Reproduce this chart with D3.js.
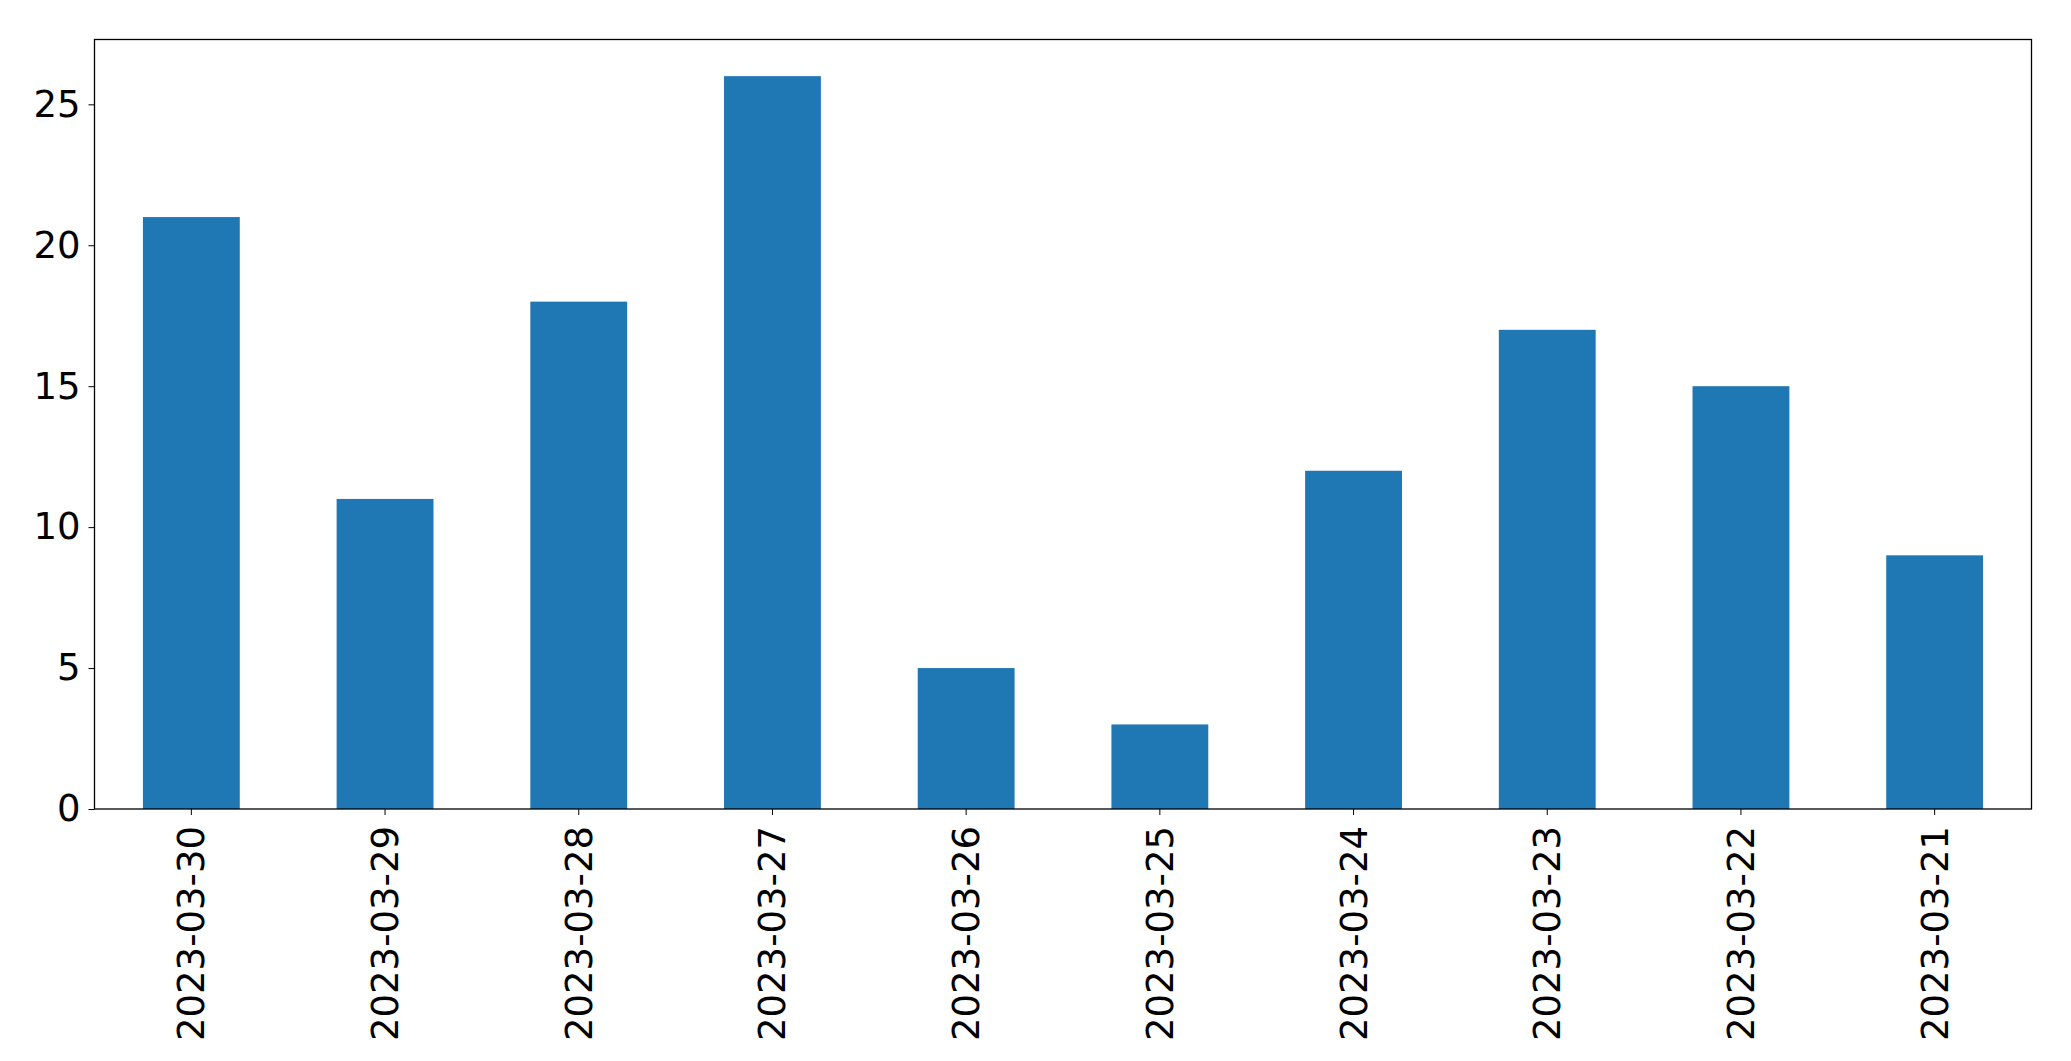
<!DOCTYPE html>
<html>
<head>
<meta charset="utf-8">
<script src="https://d3js.org/d3.v7.min.js"></script>
<style>
body { margin: 0; background: white; }
text { font-family: "DejaVu Sans", sans-serif; }
</style>
</head>
<body>
<svg id="chart" width="2071" height="1061"></svg>
<script>
// Data
const dates = ["2023-03-30", "2023-03-29", "2023-03-28", "2023-03-27", "2023-03-26",
               "2023-03-25", "2023-03-24", "2023-03-23", "2023-03-22", "2023-03-21"]
const counts = [21, 11, 18, 26, 5, 3, 12, 17, 15, 9]
const yTicks = [0, 5, 10, 15, 20, 25]

const margin = {left: 94.5, right: 2071 - 2031.5, top: 39.5, bottom: 1061 - 809}
const svg = d3.select("#chart")
const w = 2071 - margin.left - margin.right
const h = 1061 - margin.top - margin.bottom

const g = svg.append("g").attr("transform", `translate(${margin.left},${margin.top})`)

const x = d3.scaleBand().domain(dates).range([0, w]).paddingInner(0.5).paddingOuter(0.25)
const y = d3.scaleLinear().domain([0, d3.max(counts) * 1.05]).range([h, 0])

g.selectAll("rect.bar")
    .data(counts)
    .join("rect")
    .attr("class", "bar")
    .attr("x", (d, i) => x(dates[i]))
    .attr("y", d => y(d))
    .attr("width", x.bandwidth())
    .attr("height", d => h - y(d))
    .attr("fill", "#1f77b4")

// Axes
const yAxis = g.append("g")
    .call(d3.axisLeft(y).tickValues(yTicks).tickSize(6).tickPadding(8))
yAxis.select(".domain").remove()
yAxis.selectAll("text").attr("font-size", 37).attr("fill", "black")

const xAxis = g.append("g")
    .attr("transform", `translate(0,${h})`)
    .call(d3.axisBottom(x).tickSize(6).tickPadding(0))
xAxis.select(".domain").remove()
xAxis.selectAll("text")
    .attr("font-size", 37)
    .attr("fill", "black")
    .attr("transform", "rotate(-90)")
    .attr("text-anchor", "end")
    .attr("x", -17)
    .attr("y", 0)
    .attr("dy", "0.35em")

// Frame
g.append("rect")
    .attr("width", w)
    .attr("height", h)
    .attr("fill", "none")
    .attr("stroke", "black")
    .attr("stroke-width", 1.3)
</script>
</body>
</html>
